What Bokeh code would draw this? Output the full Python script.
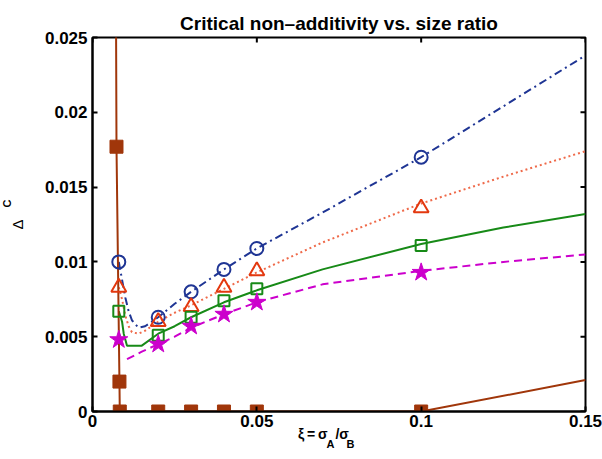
import numpy as np
from math import pi
from bokeh.plotting import figure
from bokeh.models import Range1d, Label, FixedTicker
from bokeh.embed import file_html
from bokeh.resources import INLINE

# ---- data ----
xi_markers = [0.008, 0.02, 0.03, 0.04, 0.05, 0.1]
circle_y = [0.0100, 0.0063, 0.0080, 0.0095, 0.0109, 0.0170]
triangle_y = [0.0083, 0.0060, 0.0070, 0.0083, 0.0094, 0.0136]
square_y = [0.0067, 0.0051, 0.0063, 0.0074, 0.0082, 0.0111]
star_y = [0.0048, 0.0045, 0.0057, 0.0065, 0.0073, 0.0093]

blue_x = [0.008, 0.009, 0.010, 0.011, 0.012, 0.014, 0.016, 0.018, 0.020, 0.025, 0.03, 0.04, 0.05, 0.07, 0.1, 0.125, 0.15]
blue_y = [0.0100, 0.0088, 0.0076, 0.0067, 0.0061, 0.0056, 0.0057, 0.0060, 0.0063, 0.0072, 0.0080, 0.0095, 0.0109, 0.0133, 0.0170, 0.0204, 0.0238]

red_x = [0.008, 0.009, 0.010, 0.011, 0.012, 0.014, 0.016, 0.018, 0.020, 0.025, 0.03, 0.04, 0.05, 0.07, 0.1, 0.125, 0.15]
red_y = [0.0083, 0.0075, 0.0064, 0.0057, 0.0053, 0.0052, 0.0054, 0.0057, 0.0060, 0.0066, 0.0071, 0.0082, 0.0093, 0.0113, 0.0139, 0.0157, 0.0174]

green_x = [0.008, 0.009, 0.0095, 0.0105, 0.015, 0.02, 0.025, 0.03, 0.04, 0.05, 0.07, 0.1, 0.125, 0.15]
green_y = [0.0067, 0.0060, 0.0052, 0.0044, 0.0044, 0.0052, 0.0057, 0.0063, 0.0073, 0.0081, 0.0095, 0.0112, 0.0123, 0.0132]

magenta_x = [0.0105, 0.015, 0.02, 0.025, 0.03, 0.04, 0.05, 0.07, 0.1, 0.125, 0.15]
magenta_y = [0.0035, 0.0040, 0.0045, 0.0050, 0.0056, 0.0065, 0.0073, 0.0085, 0.0094, 0.0100, 0.0105]

brown_x = [0.0071, 0.0073, 0.0082, 0.0083, 0.02, 0.03, 0.04, 0.05, 0.1, 0.15]
brown_y = [0.030, 0.0177, 0.0020, 0.0, 0.0, 0.0, 0.0, 0.0, 0.0, 0.0021]
brown_marker_x = [0.0073, 0.0082, 0.0083, 0.02, 0.03, 0.04, 0.05, 0.1]
brown_marker_y = [0.0177, 0.0020, 0.0, 0.0, 0.0, 0.0, 0.0, 0.0]

x_ticks = [0, 0.05, 0.1, 0.15]
y_ticks = [0, 0.005, 0.01, 0.015, 0.02, 0.025]
x_tick_labels = {0: "0", 0.05: "0.05", 0.1: "0.1", 0.15: "0.15"}
y_tick_labels = {0: "0", 0.005: "0.005", 0.01: "0.01", 0.015: "0.015", 0.02: "0.02", 0.025: "0.025"}

title_text = "Critical non\u2013additivity vs. size ratio"
NB = "\u00a0"
x_label_main = "\u03be\u2009=\u2009\u03c3" + NB * 2 + "/\u03c3" + NB * 8
x_sub_a = "A"
x_sub_b = "B"
y_label_main = "\u0394"
y_sub = "C"

FONT = "Liberation Sans"

p = figure(width=602, height=459, output_backend="svg", toolbar_location=None,
           x_range=Range1d(x_ticks[0], x_ticks[-1]), y_range=Range1d(y_ticks[0], y_ticks[-1]),
           min_border_left=92, min_border_right=17, min_border_top=37, min_border_bottom=48,
           title=title_text)
p.title.text_font = FONT
p.title.text_font_size = "19px"
p.title.text_font_style = "bold"
p.title.text_color = "black"
p.title.align = "center"
p.title.standoff = 8
p.grid.visible = False
p.outline_line_color = "black"
p.outline_line_width = 2

BLUE = "#1f3594"
RED = "#e3380f"
REDL = "#ef6a4a"
GREEN = "#178a17"
MAG = "#cc00cc"
BROWN = "#a0360a"

p.line(blue_x, blue_y, line_color=BLUE, line_width=2, line_dash="8 4 2 4")
p.line(red_x, red_y, line_color=REDL, line_width=2, line_dash="2 3")
p.line(green_x, green_y, line_color=GREEN, line_width=2)
p.line(magenta_x, magenta_y, line_color=MAG, line_width=2, line_dash="8 5")
p.line(brown_x, brown_y, line_color=BROWN, line_width=2)

p.scatter(xi_markers, circle_y, marker="circle", size=13, fill_color=None, line_color=BLUE, line_width=2)
p.scatter(xi_markers, triangle_y, marker="triangle", size=15, fill_color=None, line_color=RED, line_width=2)
p.scatter(xi_markers, square_y, marker="square", size=11, fill_color=None, line_color=GREEN, line_width=2)
p.scatter(xi_markers, star_y, marker="star", size=19, fill_color=MAG, line_color=MAG, line_width=1)
p.scatter(brown_marker_x, brown_marker_y, marker="square", size=13, fill_color=BROWN, line_color=BROWN, line_width=1)

# inward ticks on the top and right edges of the box (half of each dash is clipped by the frame)
p.scatter(x_ticks, [y_ticks[-1]] * len(x_ticks), marker="dash", angle=pi / 2, size=10,
          line_color="black", line_width=2)
p.scatter([x_ticks[-1]] * len(y_ticks), y_ticks, marker="dash", size=10,
          line_color="black", line_width=2)

def style_axis(ax, labels, ticks, standoff):
    ax.ticker = FixedTicker(ticks=ticks)
    ax.major_label_overrides = labels
    ax.axis_line_width = 2
    ax.axis_line_color = "black"
    ax.major_tick_line_width = 2
    ax.major_tick_in = 5
    ax.major_tick_out = 0
    ax.minor_tick_line_color = None
    ax.major_label_text_font = FONT
    ax.major_label_text_font_style = "bold"
    ax.major_label_text_font_size = "17px"
    ax.major_label_text_color = "black"
    ax.major_label_standoff = standoff
    ax.axis_label_text_font = FONT
    ax.axis_label_text_color = "black"

xa = p.xaxis[0]
style_axis(xa, x_tick_labels, x_ticks, 3)
xa.axis_label = x_label_main
xa.axis_label_text_font_size = "14px"
xa.axis_label_text_font_style = "bold"
xa.axis_label_standoff = -4

ya = p.yaxis[0]
style_axis(ya, y_tick_labels, y_ticks, 5)
ya.axis_label = y_label_main
ya.axis_label_text_font_size = "15px"
ya.axis_label_text_font_style = "normal"
ya.axis_label_standoff = 16

# subscripts, drawn from side panels (side-panel annotations are not clipped to the frame)
p.add_layout(Label(x=-86, y=455 - 206, x_units="screen", y_units="screen", text=y_sub, angle=pi / 2,
                   text_align="center", text_baseline="middle", text_font=FONT,
                   text_font_size="11px", text_font_style="bold", text_color="black"), "below")
p.add_layout(Label(x=326 - 585, y=411 - 443, x_units="screen", y_units="screen", text=x_sub_a,
                   text_align="left", text_baseline="alphabetic", text_font=FONT,
                   text_font_size="11px", text_font_style="bold", text_color="black"), "right")
p.add_layout(Label(x=347 - 594, y=411 - 443, x_units="screen", y_units="screen", text=x_sub_b,
                   text_align="left", text_baseline="alphabetic", text_font=FONT,
                   text_font_size="11px", text_font_style="bold", text_color="black"), "right")

open("out.html", "w").write(file_html(p, INLINE))
